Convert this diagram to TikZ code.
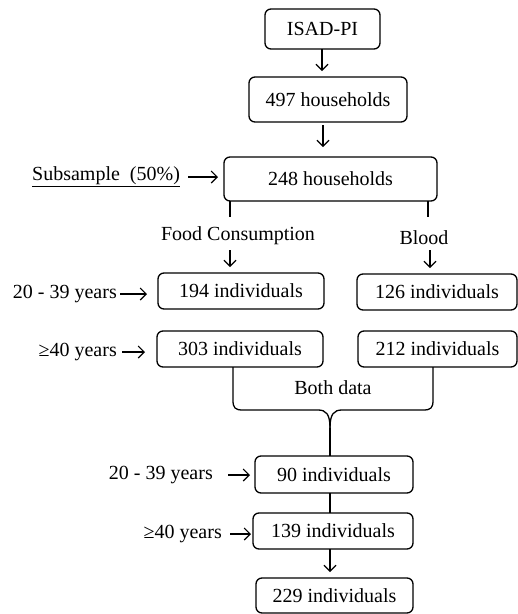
\documentclass[tikz,border=0pt]{standalone}
\usepackage{fontspec}
\setmainfont{Liberation Serif}
\usetikzlibrary{arrows.meta}
\begin{document}
\begin{tikzpicture}[x=1pt,y=-1pt,
  box/.style={draw, rounded corners=6pt, line width=1.3pt, inner sep=0pt, align=center},
  lbl/.style={inner sep=0pt},
  conn/.style={line width=1.3pt},
  arr/.style={line width=1.1pt, -{Straight Barb[length=6pt,width=12pt]}},
  every node/.style={font=\fontsize{20}{23}\selectfont}]
\useasboundingbox (0,0) rectangle (518,614);
% boxes
\node[box, minimum width=115pt, minimum height=40pt] (isad) at (322.5,29) {ISAD-PI};
\node[box, minimum width=158pt, minimum height=45pt] (h497) at (328,99.5) {497 households};
\node[box, minimum width=213pt, minimum height=44pt] (h248) at (330.5,179) {248 households};
\node[box, minimum width=166pt, minimum height=36pt] (i194) at (241,291) {194 individuals};
\node[box, minimum width=160pt, minimum height=36pt] (i126) at (437,292) {126 individuals};
\node[box, minimum width=166pt, minimum height=36pt] (i303) at (240,349) {303 individuals};
\node[box, minimum width=159pt, minimum height=36pt] (i212) at (437.5,349) {212 individuals};
\node[box, minimum width=158pt, minimum height=37pt] (i90) at (334,474.5) {90 individuals};
\node[box, minimum width=160pt, minimum height=36pt] (i139) at (333,531) {139 individuals};
\node[box, minimum width=157pt, minimum height=35pt] (i229) at (334.5,595.5) {229 individuals};
% labels
\node[lbl, anchor=west] (sub) at (32,177) {\underline{Subsample\ \ (50\%)}};
\node[lbl] (food) at (238,236) {Food Consumption};
\node[lbl] (blood) at (424,238) {Blood};
\node[lbl] (both) at (333,388) {Both data};
\node[lbl, anchor=east] (ya) at (117,294) {20 - 39 years};
\node[lbl, anchor=east] (oa) at (117,352) {≥40 years};
\node[lbl, anchor=east] (yb) at (213,475) {20 - 39 years};
\node[lbl, anchor=east] (ob) at (222,534) {≥40 years};
% coordinates
\coordinate (a1) at (322,49);
\coordinate (a1e) at (322,71);
\coordinate (a2) at (323,125);
\coordinate (a2e) at (323,147);
\coordinate (bl) at (230,201);
\coordinate (ble) at (230,217);
\coordinate (br) at (428,201);
\coordinate (bre) at (428,217);
\coordinate (fa) at (230,250);
\coordinate (fae) at (230,267);
\coordinate (ba) at (430,250);
\coordinate (bae) at (430,268);
\coordinate (sa) at (188,177);
\coordinate (sae) at (218,177);
\coordinate (yas) at (120,294);
\coordinate (yae) at (147,294);
\coordinate (oas) at (122,352);
\coordinate (oae) at (145,352);
\coordinate (ybs) at (228,475);
\coordinate (ybe) at (250,475);
\coordinate (obs) at (230,534);
\coordinate (obe) at (251,534);
\coordinate (cl) at (233,367);
\coordinate (cr) at (433,367);
\coordinate (cusp) at (330,428);
\coordinate (c90) at (330,456);
\coordinate (m1) at (330,493);
\coordinate (m2) at (330,513);
\coordinate (m3) at (330,549);
\coordinate (m4) at (330,572);
% connectors
\draw[arr] (a1) -- (a1e);
\draw[arr] (a2) -- (a2e);
\draw[conn] (bl) -- (ble);
\draw[conn] (br) -- (bre);
\draw[arr] (fa) -- (fae);
\draw[arr] (ba) -- (bae);
\draw[arr] (sa) -- (sae);
\draw[arr] (yas) -- (yae);
\draw[arr] (oas) -- (oae);
\draw[arr] (ybs) -- (ybe);
\draw[arr] (obs) -- (obe);
% brace
\draw[conn] (cl) -- (233,400) .. controls (233,408) and (235,410) .. (243,410)
  -- (318,410) .. controls (326,410) and (330,414) .. (cusp);
\draw[conn] (cr) -- (433,400) .. controls (433,408) and (431,410) .. (423,410)
  -- (342,410) .. controls (334,410) and (330,414) .. (cusp);
\draw[conn] (cusp) -- (c90);
\draw[conn] (m1) -- (m2);
\draw[arr] (m3) -- (m4);
\end{tikzpicture}
\end{document}
